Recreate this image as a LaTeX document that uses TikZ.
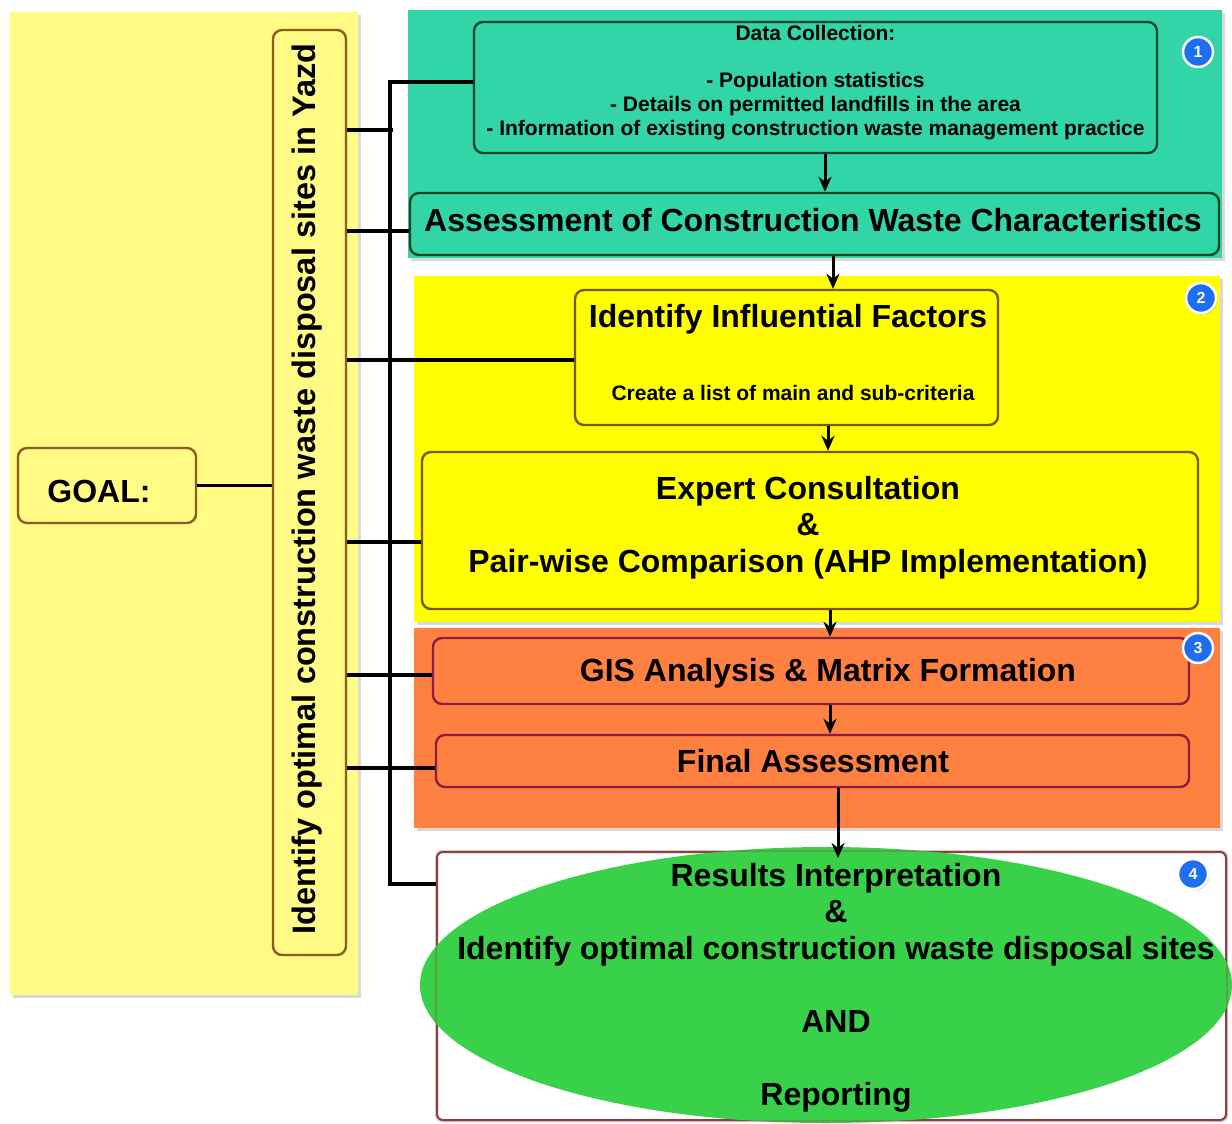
\documentclass[tikz,border=0pt]{standalone}
\usepackage{fontspec}
\setmainfont{Liberation Sans}
\usetikzlibrary{fit,shapes.geometric,shadows,arrows.meta}
\definecolor{goalbg}{HTML}{FFFB84}
\definecolor{tealbg}{HTML}{32D5A8}
\definecolor{yelbg}{HTML}{FFFF00}
\definecolor{orgbg}{HTML}{FF8142}
\definecolor{grnbg}{HTML}{3AD14A}
\definecolor{brownb}{HTML}{8E5A1E}
\definecolor{greenb}{HTML}{17452A}
\definecolor{ochreb}{HTML}{7D5410}
\definecolor{maroonb}{HTML}{8C1E45}
\definecolor{resb}{HTML}{8B4040}
\definecolor{badgeblue}{HTML}{1E6FF0}
\tikzset{
 panel/.style={inner sep=0pt, draw=none, drop shadow={shadow xshift=3pt, shadow yshift=-3pt, opacity=0.3}},
 stepbox/.style={inner sep=0pt, rounded corners=9pt, line width=2.4pt},
 big/.style={font=\fontsize{32}{36.5}\selectfont\bfseries, align=center, inner sep=0pt},
 small/.style={font=\fontsize{21}{23.8}\selectfont\bfseries, align=center, inner sep=0pt},
 conn/.style={line width=3.6pt, black},
 arr/.style={line width=3pt, -{Stealth[length=15pt,width=13pt]}},
 badge/.style={circle, fill=badgeblue, draw=white, line width=2.5pt, minimum size=30pt, inner sep=0pt, text=white, font=\fontsize{16}{16}\selectfont\bfseries, drop shadow={shadow xshift=1.5pt,shadow yshift=-1.5pt,opacity=.35}},
}
\begin{document}
\begin{tikzpicture}[x=1pt,y=-1pt]
\useasboundingbox (0,0) rectangle (1232,1124);
% panels
\node[panel, fill=goalbg, fit={(10,12) (358,995)}] (pgoal) {};
\node[panel, fill=tealbg, fit={(408,10) (1222,258)}] (p1) {};
\node[panel, fill=yelbg, fit={(414,276) (1220,622)}] (p2) {};
\node[panel, fill=orgbg, fit={(414,628) (1220,828)}] (p3) {};
% left side
\node[stepbox, draw=brownb, fill=goalbg, fit={(18,448) (196,523)}] (goal) {};
\node[big] (goaltext) at (99,491) {GOAL:};
\node[stepbox, draw=brownb, fill=goalbg, fit={(273,30) (346,955)}] (vbox) {};
\node[big, rotate=90, font=\fontsize{32.5}{36}\selectfont\bfseries] (vtext) at (307,489) {Identify optimal construction waste disposal sites in Yazd};
% step boxes
\node[stepbox, draw=greenb, fill=tealbg, fit={(474,22) (1157,153)}] (dc) {};
\node[small] (dctext) at (815.5,82.5) {Data Collection:\\[23.8pt]- Population statistics\\- Details on permitted landfills in the area\\- Information of existing construction waste management practice};
\node[stepbox, draw=greenb, fill=tealbg, fit={(410,193) (1219,255)}] (asm) {};
\node[big] (asmtext) at (813,220) {Assessment of Construction Waste Characteristics};
\node[stepbox, draw=ochreb, fill=yelbg, fit={(575,290) (998,425)}] (idf) {};
\node[big] (idftitle) at (788,319) {Identify Influential Factors};
\node[small] (idfsub) at (793,393) {Create a list of main and sub-criteria};
\node[stepbox, draw=ochreb, fill=yelbg, fit={(422,452) (1198,609)}] (exp) {};
\node[big] (exptext) at (808,527.5) {Expert Consultation\\ \&\\ Pair-wise Comparison (AHP Implementation)};
\node[stepbox, draw=maroonb, fill=orgbg, fit={(433,638) (1189,704)}] (gis) {};
\node[big] (gistext) at (828,673) {GIS Analysis \& Matrix Formation};
\node[stepbox, draw=maroonb, fill=orgbg, fit={(436,735) (1189,787)}] (fin) {};
\node[big] (fintext) at (813,761) {Final Assessment};
% results
\node[inner sep=0pt, draw=resb, line width=2pt, rounded corners=6pt, fill=white, fit={(437,852) (1226,1120)}] (resbox) {};
\node[ellipse, fill=grnbg, minimum width=812pt, minimum height=276pt, inner sep=0pt] (res) at (826,985) {};
\draw[resb, line width=2pt, rounded corners=6pt, draw opacity=0.3] (resbox.south west) rectangle (resbox.north east);
\node[big] (restext) at (836,987.5) {Results Interpretation\\ \&\\ Identify optimal construction waste disposal sites\\[36.5pt] AND\\[36.5pt] Reporting};
% badges
\node[badge] (b1) at (1198,52) {1};
\node[badge] (b2) at (1201,298) {2};
\node[badge] (b3) at (1198,648) {3};
\node[badge] (b4) at (1193,874) {4};
% connectors
\coordinate (busT) at (390,82);
\coordinate (busB) at (390,884);
\coordinate (busJ) at (393,130);
\draw[conn] (goal.east) -- (vbox.west |- goal.east);
\draw[conn] (dc.west |- busT) -- (busT) -- (busB) -- (resbox.west |- busB);
\draw[conn] (vbox.east |- 0,130) -- (busJ);
\draw[conn] (vbox.east |- 0,231) -- (asm.west |- 0,231);
\draw[conn] (vbox.east |- 0,360) -- (idf.west |- 0,360);
\draw[conn] (vbox.east |- 0,542) -- (exp.west |- 0,542);
\draw[conn] (vbox.east |- 0,675) -- (gis.west |- 0,675);
\draw[conn] (vbox.east |- 0,768) -- (fin.west |- 0,768);
% arrows
\draw[arr] (dc.south -| 825,0) -- (asm.north -| 825,0);
\draw[arr] (asm.south -| 833,0) -- (idf.north -| 833,0);
\draw[arr] (idf.south -| 828,0) -- (exp.north -| 828,0);
\draw[arr] (exp.south -| 830,0) -- (gis.north -| 830,0);
\draw[arr] (gis.south -| 830,0) -- (fin.north -| 830,0);
\draw[arr] (fin.south -| 838,0) -- ([yshift=-7pt]resbox.north -| 838,0);
\end{tikzpicture}
\end{document}
